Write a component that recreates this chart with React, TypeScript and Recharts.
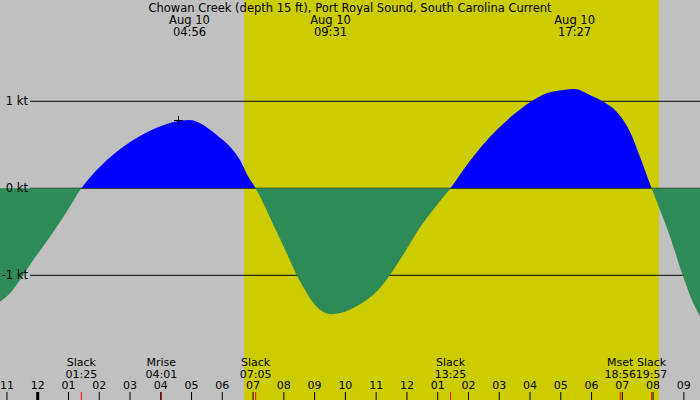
import React from 'react';
import {
    ComposedChart,
    Area,
    XAxis,
    YAxis,
    ReferenceArea,
    ReferenceLine,
    ReferenceDot,
} from 'recharts';

const CHART_W = 700;
const CHART_H = 400;
const FONT = '"DejaVu Sans", sans-serif';
const FONT_SIZE = 11.5;
const SMALL_SIZE = 11;

const title = 'Chowan Creek (depth 15 ft), Port Royal Sound, South Carolina Current';

// hours since midnight Aug 10 (negative = Aug 9)
const times = [
    -1.225, -0.9, -0.575, -0.143, 0.4, 0.942, 1.417, 2.025, 2.567, 3.107, 3.65, 4.19,
    4.625, 4.933, 5.275, 5.817, 6.25, 6.575, 6.845, 7.083, 7.387, 7.712, 8.145, 8.417,
    8.687, 9.012, 9.337, 9.517, 9.987, 10.53, 11.069, 11.449, 11.937, 12.48, 13.02, 13.417,
    13.832, 14.374, 14.917, 15.457, 15.999, 16.542, 17.082, 17.45, 17.94, 18.382, 18.817,
    19.249, 19.574, 19.95, 20.226, 20.551, 20.962, 21.307, 21.525,
];
// current speed in knots (flood positive, ebb negative)
const speeds = [
    -1.303, -1.207, -1.054, -0.824, -0.556, -0.269, 0, 0.248, 0.421, 0.555, 0.662, 0.739,
    0.777, 0.785, 0.747, 0.613, 0.478, 0.326, 0.133, 0, -0.211, -0.46, -0.786, -0.997,
    -1.169, -1.341, -1.43, -1.447, -1.418, -1.322, -1.169, -0.997, -0.729, -0.422, -0.172, 0,
    0.21, 0.46, 0.671, 0.844, 0.989, 1.092, 1.13, 1.141, 1.072, 0.995, 0.88,
    0.651, 0.363, 0, -0.249, -0.556, -1.0, -1.322, -1.47,
];

const hourTicks = [-1, 0, 1, 2, 3, 4, 5, 6, 7, 8, 9, 10, 11, 12, 13, 14, 15, 16, 17, 18, 19, 20, 21];
const hourLabels = ['11', '12', '01', '02', '03', '04', '05', '06', '07', '08', '09', '10', '11', '12', '01', '02', '03', '04', '05', '06', '07', '08', '09'];
const midnightTick = 0;

const ktLevels = [1, 0, -1];
const ktLabels = ['1 kt', '0 kt', '-1 kt'];

const sunrise = 6.705;
const sunset = 20.19;

const eventTimes = [1.417, 4.017, 7.083, 13.417, 18.933, 19.95];
const eventNames = ['Slack', 'Mrise', 'Slack', 'Slack', 'Mset', 'Slack'];
const eventLabels = ['01:25', '04:01', '07:05', '13:25', '18:56', '19:57'];

const peakTimes = [4.933, 9.517, 17.45];
const peakDates = ['Aug 10', 'Aug 10', 'Aug 10'];
const peakLabels = ['04:56', '09:31', '17:27'];

const markTime = 4.576;
const markSpeed = 0.779;

const xDomain = [-1.225, 21.525];
const yDomain = [-2.433, 2.164];

const data = times.map((t, i) => ({ t, speed: speeds[i] }));

// where zero sits inside the area's bounding box, for the two-colour fill
const dataMax = Math.max(...speeds);
const dataMin = Math.min(...speeds);
const zeroOffset = dataMax / (dataMax - dataMin);

const txt = { fontFamily: FONT, fontSize: FONT_SIZE, fill: '#000' };
const smallTxt = { fontFamily: FONT, fontSize: SMALL_SIZE, fill: '#000' };

const HourTick = (props: any) => {
    const { x, payload } = props;
    const i = hourTicks.indexOf(payload.value);
    const w = payload.value === midnightTick ? 3 : 1;
    return (
        <g>
            <text x={x} y={CHART_H - 10.7} textAnchor="middle" {...smallTxt}>
                {hourLabels[i]}
            </text>
            <rect x={x - w / 2} y={CHART_H - 8} width={w} height={8} fill="#000" />
        </g>
    );
};

const KtTick = (props: any) => {
    const { y, payload } = props;
    const i = ktLevels.indexOf(payload.value);
    return (
        <text x={28} y={y + 4} textAnchor="end" {...txt}>
            {ktLabels[i]}
        </text>
    );
};

const GridLine = (p: any) => (
    <line
        x1={30}
        y1={p.y1}
        x2={Math.max(p.x1, p.x2)}
        y2={p.y2}
        stroke="#000"
        strokeWidth={1}
    />
);

const EventMark = (p: any) => {
    const bottom = Math.max(p.y1, p.y2);
    return (
        <g>
            <rect x={p.x1 - 0.5} y={bottom - 8} width={1} height={8} fill="#ff0000" />
            <text x={p.x1} y={bottom - 34} textAnchor="middle" {...smallTxt}>
                {p.name}
            </text>
            <text x={p.x1} y={bottom - 22.3} textAnchor="middle" {...smallTxt}>
                {p.label}
            </text>
        </g>
    );
};

const PeakMark = (p: any) => {
    const top = Math.min(p.y1, p.y2);
    return (
        <g>
            <text x={p.x1} y={top + 23.5} textAnchor="middle" {...txt}>
                {p.date}
            </text>
            <text x={p.x1} y={top + 36} textAnchor="middle" {...txt}>
                {p.label}
            </text>
        </g>
    );
};

const PlusMark = (p: any) => (
    <g stroke="#000" strokeWidth={1}>
        <line x1={p.cx - 4.5} y1={p.cy} x2={p.cx + 4.5} y2={p.cy} />
        <line x1={p.cx} y1={p.cy - 4.5} x2={p.cx} y2={p.cy + 4.5} />
    </g>
);

export default function App() {
    return (
        <div
            style={{
                position: 'fixed',
                left: 0,
                top: 0,
                width: CHART_W,
                height: CHART_H,
                background: '#c0c0c0',
            }}
        >
            <ComposedChart
                width={CHART_W}
                height={CHART_H}
                data={data}
                margin={{ top: 0, right: 0, bottom: 0, left: 0 }}
            >
                <defs>
                    <linearGradient id="floodEbb" x1="0" y1="0" x2="0" y2="1">
                        <stop offset={zeroOffset} stopColor="#0000ff" />
                        <stop offset={zeroOffset} stopColor="#2e8b57" />
                    </linearGradient>
                </defs>
                <XAxis
                    type="number"
                    dataKey="t"
                    domain={xDomain}
                    ticks={hourTicks}
                    interval={0}
                    allowDataOverflow
                    mirror
                    axisLine={false}
                    tickLine={false}
                    tick={<HourTick />}
                />
                <YAxis
                    type="number"
                    domain={yDomain}
                    ticks={ktLevels}
                    interval={0}
                    allowDataOverflow
                    mirror
                    axisLine={false}
                    tickLine={false}
                    tick={<KtTick />}
                />
                <ReferenceArea
                    x1={sunrise}
                    x2={sunset}
                    fill="#cccc00"
                    fillOpacity={1}
                    stroke="none"
                    zIndex={10}
                />
                {ktLevels.map((lvl) => (
                    <ReferenceLine key={lvl} y={lvl} shape={GridLine} zIndex={50} />
                ))}
                <Area
                    type="monotone"
                    dataKey="speed"
                    baseValue={0}
                    stroke="none"
                    fill="url(#floodEbb)"
                    fillOpacity={1}
                    dot={false}
                    activeDot={false}
                    isAnimationActive={false}
                />
                {eventTimes.map((t, i) => (
                    <ReferenceLine
                        key={'ev' + i}
                        x={t}
                        shape={(p: any) => (
                            <EventMark {...p} name={eventNames[i]} label={eventLabels[i]} />
                        )}
                    />
                ))}
                {peakTimes.map((t, i) => (
                    <ReferenceLine
                        key={'pk' + i}
                        x={t}
                        shape={(p: any) => (
                            <PeakMark {...p} date={peakDates[i]} label={peakLabels[i]} />
                        )}
                    />
                ))}
                <ReferenceDot x={markTime} y={markSpeed} shape={PlusMark} />
            </ComposedChart>
            <svg
                width={CHART_W}
                height={20}
                style={{ position: 'absolute', left: 0, top: 0, pointerEvents: 'none' }}
            >
                <text x={CHART_W / 2} y={11.7} textAnchor="middle" {...txt}>
                    {title}
                </text>
            </svg>
        </div>
    );
}
